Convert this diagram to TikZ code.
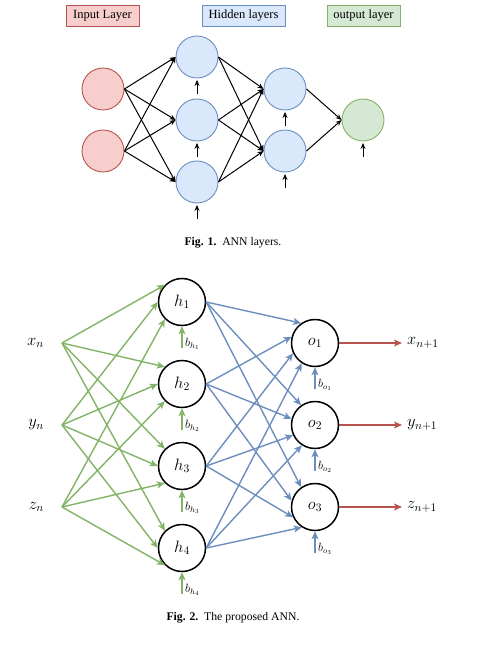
\RequirePackage{fix-cm}
\documentclass[tikz,border=0pt]{standalone}
\usepackage{fontspec}
\setmainfont{Liberation Serif}
\usetikzlibrary{arrows.meta}
\definecolor{redfill}{HTML}{F8CECC}
\definecolor{redline}{HTML}{B85450}
\definecolor{bluefill}{HTML}{DAE8FC}
\definecolor{blueline}{HTML}{6C8EBF}
\definecolor{greenfill}{HTML}{D5E8D4}
\definecolor{greenline}{HTML}{82B366}
\begin{document}
\begin{tikzpicture}[x=1pt,y=-1pt,
  legend/.style={draw, line width=0.9pt, minimum height=21pt, inner sep=0pt, font=\fontsize{12.5}{14}\selectfont},
  topnode/.style={circle, draw, line width=0.9pt, minimum size=42pt, inner sep=0pt},
  inn/.style={topnode, fill=redfill, draw=redline},
  hid/.style={topnode, fill=bluefill, draw=blueline},
  outn/.style={topnode, fill=greenfill, draw=greenline},
  tarrow/.style={line width=1pt, -{Stealth[length=6pt,width=5pt]}},
  neuron/.style={circle, draw=black, line width=1.5pt, minimum size=47pt, inner sep=0pt, font=\fontsize{16.5}{18}\selectfont},
  varlabel/.style={inner sep=0pt, font=\fontsize{16.5}{18}\selectfont},
  biaslabel/.style={anchor=west, inner sep=0pt, font=\fontsize{12}{14}\selectfont},
  garrow/.style={draw=greenline, line width=1.4pt, -{Stealth[length=8pt,width=7pt,inset=2pt]}},
  barrow/.style={draw=blueline, line width=1.4pt, -{Stealth[length=8pt,width=7pt,inset=2pt]}},
  rarrow/.style={draw=redline, line width=1.4pt, -{Stealth[length=8pt,width=7pt,inset=2pt]}},
  caption/.style={inner sep=0pt, font=\fontsize{11.7}{13}\selectfont}
]
\useasboundingbox (0,0) rectangle (481,647);

% ---------- Fig. 1 ----------
\node[legend, fill=redfill, draw=redline, minimum width=73pt] (L1) at (102.5,15.5) {Input Layer};
\node[legend, fill=bluefill, draw=blueline, minimum width=83pt] (L2) at (243.5,15.5) {Hidden layers};
\node[legend, fill=greenfill, draw=greenline, minimum width=73pt] (L3) at (363.5,15.5) {output layer};

\node[inn] (i1) at (103,89) {};
\node[inn] (i2) at (103,151) {};
\node[hid] (a1) at (197,57) {};
\node[hid] (a2) at (197,120) {};
\node[hid] (a3) at (197,182) {};
\node[hid] (b1) at (285,89) {};
\node[hid] (b2) at (285,151) {};
\node[outn] (c) at (363,120) {};

\foreach \s in {i1,i2}
  \foreach \t in {a1,a2,a3}
    \draw[tarrow] (\s.east) -- (\t.west);
\foreach \s in {a1,a2,a3}
  \foreach \t in {b1,b2}
    \draw[tarrow] (\s.east) -- (\t.west);
\foreach \s in {b1,b2}
  \draw[tarrow] (\s.east) -- (c.west);

\foreach \n/\x/\y in {a1/197/57, a2/197/120, a3/197/182, b1/285/89, b2/285/151, c/363/120} {
  \coordinate (bias-\n) at (\x,\y+37);
  \draw[tarrow, shorten >=1.5pt] (bias-\n) -- (\n.south);
}

\node[caption] (cap1) at (233,243) {\textbf{Fig. 1.}\enspace ANN layers.};

% ---------- Fig. 2 ----------
\node[varlabel, anchor=east] (xn) at (44,343) {$x_n$};
\node[varlabel, anchor=east] (yn) at (44,425) {$y_n$};
\node[varlabel, anchor=east] (zn) at (44,507) {$z_n$};
\coordinate (sx) at (62,343);
\coordinate (sy) at (62,425);
\coordinate (sz) at (62,507);

\node[neuron] (h1) at (182,302) {$h_1$};
\node[neuron] (h2) at (182,384) {$h_2$};
\node[neuron] (h3) at (182,466) {$h_3$};
\node[neuron] (h4) at (182,548) {$h_4$};

\node[neuron] (o1) at (315,343) {$o_1$};
\node[neuron] (o2) at (315,425) {$o_2$};
\node[neuron] (o3) at (315,507) {$o_3$};

\node[varlabel, anchor=west, inner sep=5pt] (xo) at (402,343) {$x_{n+1}$};
\node[varlabel, anchor=west, inner sep=5pt] (yo) at (402,425) {$y_{n+1}$};
\node[varlabel, anchor=west, inner sep=5pt] (zo) at (402,507) {$z_{n+1}$};

\foreach \s/\a in {sx/135, sy/180, sz/225}
  \foreach \t in {h1,h2,h3,h4}
    \draw[garrow] (\s) -- (\t.\a);

\foreach \s/\a in {h1/125, h2/165, h3/205, h4/237}
  \foreach \t in {o1,o2,o3}
    \draw[barrow] (\s.east) -- (\t.\a);

\draw[rarrow] (o1.east) -- (xo.west);
\draw[rarrow] (o2.east) -- (yo.west);
\draw[rarrow] (o3.east) -- (zo.west);

\foreach \n/\y/\k in {h1/302/1, h2/384/2, h3/466/3, h4/548/4} {
  \coordinate (bh\k) at (182,\y+46);
  \draw[garrow] (bh\k) -- (\n.south);
  \node[biaslabel] (lbh\k) at (185,\y+42) {$b_{h_\k}$};
}
\foreach \n/\y/\k in {o1/343/1, o2/425/2, o3/507/3} {
  \coordinate (bo\k) at (315,\y+46);
  \draw[barrow] (bo\k) -- (\n.south);
  \node[biaslabel] (lbo\k) at (318,\y+42) {$b_{o_\k}$};
}

\node[caption] (cap2) at (233,618) {\textbf{Fig. 2.}\enspace The proposed ANN.};
\end{tikzpicture}
\end{document}
